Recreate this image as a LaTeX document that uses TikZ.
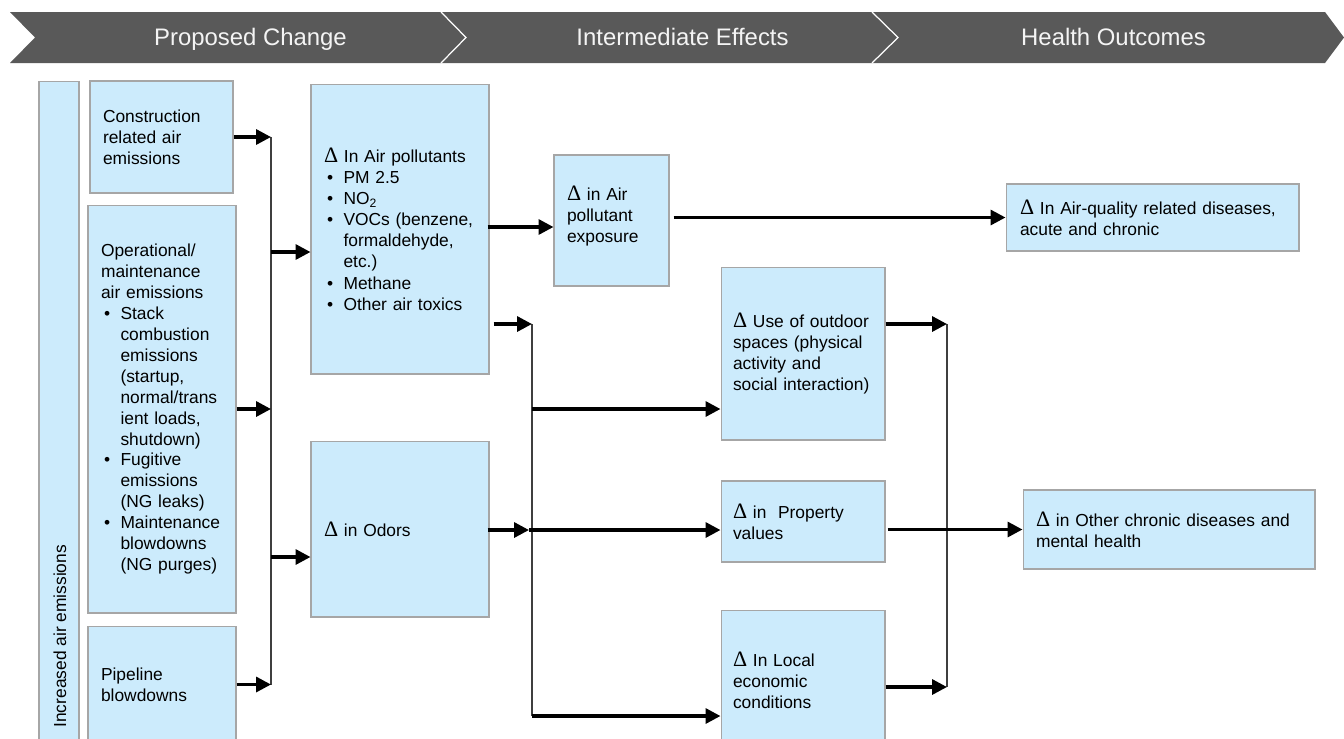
\documentclass[tikz,border=0pt]{standalone}
\usepackage{fontspec}
\setmainfont{Liberation Sans}
\newfontfamily\dser{Liberation Serif}
\usetikzlibrary{arrows.meta,calc}
\definecolor{hdr}{HTML}{595959}
\definecolor{boxfill}{HTML}{CCEBFC}
\definecolor{boxline}{HTML}{A6A6A6}
\definecolor{vl}{HTML}{3F3F3F}
\definecolor{hdrtxt}{HTML}{F4F4F4}
\newcommand{\bodyfont}{\fontsize{9.9pt}{11.95pt}\selectfont}
\newcommand{\dl}{{\dser\fontsize{12.5pt}{11.95pt}\selectfont Δ}}
\newcommand{\bl}[1]{\mbox{\makebox[0.39cm][l]{\hspace{0.06cm}\textbullet}#1}}
\newcommand{\ct}[1]{\mbox{\hspace*{0.39cm}#1}}
\begin{document}
\begin{tikzpicture}[x=0.02cm,y=-0.02cm,
  box/.style={draw=boxline, fill=boxfill, line width=0.6pt, inner xsep=0.26cm, inner ysep=0pt, align=left, font=\bodyfont},
  arr/.style={line width=1.9pt, -{Triangle[length=8.5pt,width=8.5pt]}},
  vline/.style={vl, line width=1.1pt},
  hdrtext/.style={text=hdrtxt, anchor=base, inner sep=0pt, font=\fontsize{13.6pt}{16pt}\selectfont}]
\useasboundingbox (0,0) rectangle (1344,738);
\clip (0,0) rectangle (1344,738);
% header band
\fill[hdr] (10,12) -- (1325,12) -- (1344,37.5) -- (1325,63) -- (10,63) -- (35,37.5) -- cycle;
\draw[white, line width=0.7pt] (441,12) -- (466,37.5) -- (441,63);
\draw[white, line width=0.7pt] (872,12) -- (898,37.5) -- (872,63);
\node[hdrtext] (h1) at (250.5,45) {Proposed Change};
\node[hdrtext] (h2) at (682.5,45) {Intermediate Effects};
\node[hdrtext] (h3) at (1113.5,45) {Health Outcomes};
% left bar
\node[box, minimum width=0.8cm, minimum height=13.28cm] (bar) at (59,413) {};
\node[rotate=90, anchor=west, font=\bodyfont, inner sep=0pt] (bartext) at (60,728) {Increased air emissions};
% proposed change boxes
\node[box, minimum width=2.86cm, minimum height=2.24cm, text width=2.34cm] (constr) at (161.5,137)
  {Construction\\related air\\emissions};
\node[box, minimum width=2.96cm, minimum height=8.16cm, text width=2.44cm] (oper) at (162,409)
  {Operational/\\maintenance\\air emissions\\\bl{Stack}\\\ct{combustion}\\\ct{emissions}\\\ct{(startup,}\\\ct{normal/trans}\\\ct{ient loads,}\\\ct{shutdown)}\\\bl{Fugitive}\\\ct{emissions}\\\ct{(NG leaks)}\\\bl{Maintenance}\\\ct{blowdowns}\\\ct{(NG purges)}};
\node[box, minimum width=2.96cm, minimum height=2.34cm, text width=2.44cm] (pipe) at (162,684.5)
  {Pipeline\\blowdowns};
% middle boxes
\node[box, minimum width=3.56cm, minimum height=5.8cm, text width=3.04cm, font=\fontsize{9.9pt}{12.05pt}\selectfont] (airpol) at (400,229)
  {\mbox{\dl{} In Air pollutants}\\\bl{PM 2.5}\\\bl{NO\textsubscript{2}}\\\bl{VOCs (benzene,}\\\ct{formaldehyde,}\\\ct{etc.)}\\\bl{Methane}\\\bl{Other air toxics}};
\node[box, minimum width=3.56cm, minimum height=3.52cm, text width=3.04cm] (odors) at (400,529)
  {\dl{} in Odors};
\node[box, minimum width=2.3cm, minimum height=2.62cm, text width=1.78cm] (expo) at (611.5,220.5)
  {\dl{} in Air\\pollutant\\exposure\\[-0.18cm]\mbox{}};
\node[box, minimum width=3.28cm, minimum height=3.46cm, text width=2.8cm, inner xsep=0.24cm] (outdoor) at (803,353.5)
  {\mbox{\dl{} Use of outdoor}\\\mbox{spaces (physical}\\activity and\\\mbox{social interaction)}};
\node[box, minimum width=3.28cm, minimum height=1.62cm, text width=2.8cm, inner xsep=0.24cm] (prop) at (803,521.5)
  {\dl{} in\ \ Property\\values};
\node[box, minimum width=3.28cm, minimum height=2.8cm, text width=2.8cm, inner xsep=0.24cm] (local) at (803,680)
  {\dl{} In Local\\economic\\conditions};
% outcome boxes
\node[box, minimum width=5.86cm, minimum height=1.34cm, text width=5.3cm] (aqd) at (1152.5,217.5)
  {\dl{} In Air-quality related diseases,\\acute and chronic};
\node[box, minimum width=5.84cm, minimum height=1.58cm, text width=5.32cm] (other) at (1169,529.5)
  {\dl{} in Other chronic diseases and\\mental health};
% connectors: proposed change -> middle
\coordinate (ja) at (271,137);
\coordinate (jb) at (271,684.5);
\coordinate (ja1) at (271,252);
\coordinate (ja2) at (271,557);
\draw[vline] (ja) -- (jb);
\draw[arr] (constr.east) -- (ja);
\draw[arr] (oper.east) -- (oper.east -| ja);
\draw[arr] (pipe.east) -- (jb);
\draw[arr] (ja1) -- (ja1 -| airpol.west);
\draw[arr] (ja2) -- (ja2 -| odors.west);
% air pollutants -> exposure -> outcome
\draw[arr] ([xshift=-0.04cm]airpol.east |- 0,227) -- (expo.west |- 0,227);
\draw[arr] ([xshift=0.08cm]expo.east |- aqd.west) -- (aqd.west);
% second bus
\coordinate (jc1) at (532,324);
\coordinate (jc2) at (532,716);
\coordinate (jc3) at (532,409);
\draw[vline] (jc1) -- (jc2);
\draw[arr] ([xshift=0.08cm]airpol.east |- jc1) -- (jc1);
\draw[arr] (jc3) -- (jc3 -| outdoor.west);
\draw[arr] (jc2) -- (jc2 -| local.west);
\coordinate (jo) at (529,530);
\draw[arr] ([xshift=-0.04cm]odors.east |- jo) -- (jo);
\draw[arr] (jo) -- (jo -| prop.west);
% third bus
\coordinate (jd1) at (947,324);
\coordinate (jd2) at (947,687);
\draw[vline] (jd1) -- (jd2);
\draw[arr] (outdoor.east |- jd1) -- (jd1);
\draw[arr] (local.east |- jd2) -- (jd2);
\draw[arr] ([xshift=0.04cm]prop.east |- other.west) -- (other.west);
\end{tikzpicture}
\end{document}
